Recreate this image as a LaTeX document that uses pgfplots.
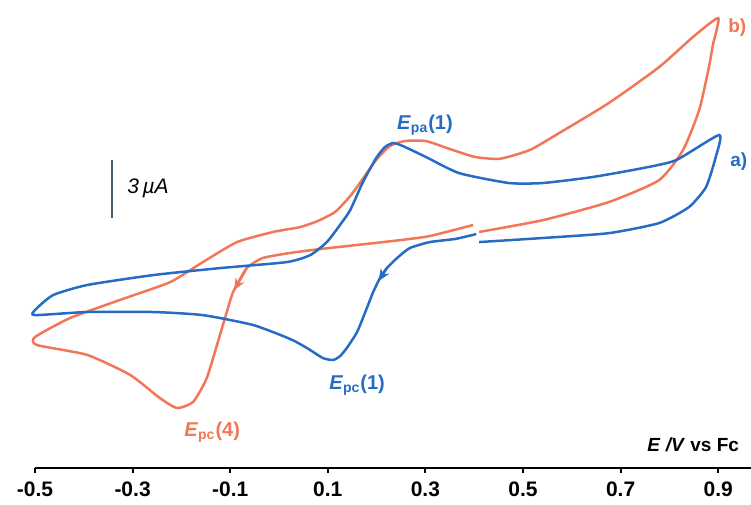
\documentclass[border=0pt]{standalone}
\usepackage{pgfplots}
\pgfplotsset{compat=1.18}
\usepackage{fontspec}
\setmainfont{Liberation Sans}
\usetikzlibrary{arrows.meta}
\definecolor{cvblue}{RGB}{38,108,196}
\definecolor{cvorange}{RGB}{242,118,88}
\definecolor{barcol}{RGB}{70,90,105}
\begin{document}
\begin{tikzpicture}
\begin{axis}[
  scale only axis, width=358pt, height=234pt,
  xmin=-0.5, xmax=0.9672, ymin=0, ymax=24.09,
  clip=false,
  axis x line=bottom, axis y line=none,
  x axis line style={-, line width=1pt, black},
  xtick={-0.5,-0.3,-0.1,0.1,0.3,0.5,0.7,0.9},
  xticklabels={-0.5,-0.3,-0.1,0.1,0.3,0.5,0.7,0.9},
  xtick align=outside, major tick length=2.5pt,
  xtick style={line width=1pt, black},
  xticklabel style={font=\bfseries\fontsize{10.5}{12}\selectfont, yshift=-1pt},
]
% b) orange
\addplot[cvorange, line width=1.25pt, smooth, tension=0.35] coordinates {
(0.398,12.51)(0.309,11.94)(0.248,11.73)(0.160,11.48)(0.084,11.27)(0.023,11.07)
(-0.033,10.81)(-0.066,10.29)(-0.094,9.06)(-0.107,8.03)(-0.121,6.85)(-0.148,4.63)
(-0.176,3.40)(-0.209,3.09)(-0.244,3.60)(-0.305,4.79)(-0.393,5.82)(-0.496,6.33)
(-0.500,6.74)(-0.428,7.72)(-0.326,8.65)(-0.223,9.57)(-0.156,10.60)(-0.086,11.63)
(-0.012,12.15)(0.043,12.40)(0.078,12.70)(0.115,13.18)(0.146,14.00)(0.170,14.82)
(0.199,15.85)(0.227,16.57)(0.258,16.83)(0.301,16.83)(0.350,16.42)(0.402,16.01)
(0.453,15.92)(0.514,16.37)(0.574,17.24)(0.676,18.79)(0.779,20.64)(0.848,22.18)
(0.900,23.16)(0.889,21.77)(0.881,20.64)(0.861,18.43)(0.828,16.37)(0.779,14.82)
(0.676,13.69)(0.541,12.76)(0.410,12.15)
};
% a) blue
\addplot[cvblue, line width=1.25pt, smooth, tension=0.35] coordinates {
(0.404,12.04)(0.361,11.79)(0.309,11.63)(0.268,11.32)(0.242,10.81)(0.221,10.29)
(0.207,9.78)(0.193,9.06)(0.180,8.23)(0.160,7.00)(0.139,6.18)(0.125,5.76)
(0.111,5.56)(0.090,5.66)(0.057,6.18)(0.023,6.64)(-0.053,7.36)(-0.156,7.87)
(-0.258,8.03)(-0.393,8.03)(-0.500,7.87)(-0.500,8.13)(-0.463,8.90)(-0.393,9.42)
(-0.258,9.93)(-0.121,10.29)(0.016,10.60)(0.064,10.96)(0.098,11.63)(0.125,12.51)
(0.146,13.28)(0.172,14.72)(0.199,15.95)(0.217,16.52)(0.234,16.73)(0.254,16.57)
(0.301,16.01)(0.369,15.18)(0.471,14.67)(0.541,14.67)(0.643,14.98)(0.746,15.44)
(0.814,15.85)(0.902,17.14)(0.895,16.01)(0.875,14.46)(0.840,13.43)(0.779,12.61)
(0.676,12.09)(0.541,11.84)(0.410,11.63)
};
% direction arrows
\addplot[cvblue, line width=1.2pt, -{Stealth[length=6pt,width=5pt]}] coordinates {(0.221,10.29)(0.204,9.62)};
\addplot[cvorange, line width=1.2pt, -{Stealth[length=6pt,width=5pt]}] coordinates {(-0.066,10.29)(-0.092,9.15)};
% scale bar
\addplot[barcol, line width=1pt] coordinates {(-0.342,15.85)(-0.342,12.86)};
\node[anchor=west, font=\itshape\fontsize{10.5}{12}\selectfont] at (axis cs:-0.325,14.41) {3\,µA};
% labels
\node[cvblue, font=\bfseries\fontsize{10}{12}\selectfont] at (axis cs:0.299,17.65) {\textit{E}\textsubscript{pa}(1)};
\node[cvblue, font=\bfseries\fontsize{10}{12}\selectfont] at (axis cs:0.160,4.27) {\textit{E}\textsubscript{pc}(1)};
\node[cvorange, font=\bfseries\fontsize{10}{12}\selectfont] at (axis cs:-0.137,1.85) {\textit{E}\textsubscript{pc}(4)};
\node[cvorange, anchor=west, inner sep=0pt, font=\bfseries\fontsize{9.5}{12}\selectfont] at (axis cs:0.920,22.65) {b)};
\node[cvblue, anchor=west, inner sep=0pt, font=\bfseries\fontsize{9.5}{12}\selectfont] at (axis cs:0.924,15.75) {a)};
\node[anchor=east, font=\bfseries\fontsize{9.5}{12}\selectfont] at (axis cs:0.957,1.18) {\textit{E} \textit{/V} vs Fc};
\coordinate (BL) at (axis cs:-0.5717,-1.853);
\coordinate (TR) at (axis cs:0.9672,24.09);
\end{axis}
\pgfresetboundingbox
\path[use as bounding box] (BL) rectangle (TR);
\end{tikzpicture}
\end{document}
